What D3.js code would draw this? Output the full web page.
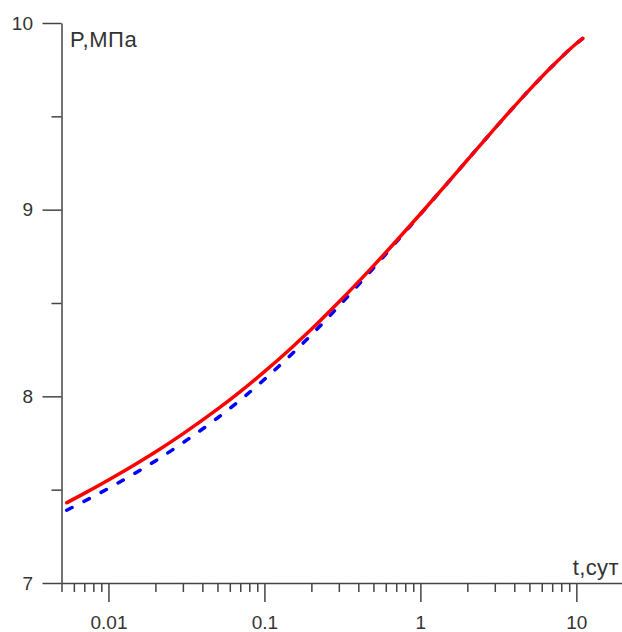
<!DOCTYPE html>
<html>
<head>
<meta charset="utf-8">
<script src="https://cdn.jsdelivr.net/npm/d3@7"></script>
<style>
  html, body { margin: 0; padding: 0; background: #fff; }
  svg { display: block; }
  text { font-family: "Liberation Sans", Arial, sans-serif; fill: #333; }
</style>
</head>
<body>
<svg id="chart" width="622" height="632"></svg>
<script>
// Time, days
const times = [0.0054, 0.007, 0.01, 0.015, 0.02, 0.03, 0.05, 0.07, 0.1, 0.15, 0.2, 0.3, 0.5, 0.7, 1, 1.5, 2, 3, 5, 7, 10, 11];
// Pressure, MPa — solid red curve
const pressureRed = [7.430, 7.480, 7.552, 7.638, 7.702, 7.799, 7.931, 8.025, 8.132, 8.262, 8.359, 8.505, 8.699, 8.832, 8.977, 9.145, 9.266, 9.435, 9.642, 9.768, 9.890, 9.918];
// Pressure, MPa — dashed blue curve
const pressureBlue = [7.390, 7.438, 7.507, 7.591, 7.654, 7.751, 7.884, 7.980, 8.091, 8.227, 8.329, 8.483, 8.687, 8.826, 8.975, 9.145, 9.266, 9.435, 9.642, 9.768, 9.890, 9.918];

const xMajorTicks = [0.01, 0.1, 1, 10];
const xMinorTicks = [0.005, 0.006, 0.007, 0.008, 0.009,
  0.02, 0.03, 0.04, 0.05, 0.06, 0.07, 0.08, 0.09,
  0.2, 0.3, 0.4, 0.5, 0.6, 0.7, 0.8, 0.9,
  2, 3, 4, 5, 6, 7, 8, 9];
const xTickLabels = ["0.01", "0.1", "1", "10"];
const yMajorTicks = [7, 8, 9, 10];
const yMinorTicks = [7.5, 8.5, 9.5];

const svg = d3.select("#chart");

const x = d3.scaleLog().domain([0.005, 20]).range([61.5, 623.3]);
const y = d3.scaleLinear().domain([7, 10]).range([583, 23]);

const axisColor = "#444";

function styleAxis(g) {
  g.selectAll("path.domain").attr("stroke", axisColor).attr("stroke-width", 1.5);
  g.selectAll(".tick line").attr("stroke", axisColor).attr("stroke-width", 1.5);
  g.selectAll(".tick text")
    .attr("font-size", 19)
    .attr("font-family", "Liberation Sans, Arial, sans-serif")
    .attr("fill", "#333");
}

// Curves: blue dashed underneath, red solid on top
const line = (vals) => d3.line()
  .x((d, i) => x(times[i]))
  .y((d) => y(d))
  .curve(d3.curveMonotoneX)(vals);

svg.append("path")
  .attr("d", line(pressureBlue))
  .attr("fill", "none")
  .attr("stroke", "#0000ff")
  .attr("stroke-width", 3.5)
  .attr("stroke-linecap", "round")
  .attr("stroke-dasharray", "6,13.4");

svg.append("path")
  .attr("d", line(pressureRed))
  .attr("fill", "none")
  .attr("stroke", "#ff0000")
  .attr("stroke-width", 3.5)
  .attr("stroke-linecap", "round");

// Y axis
const yAxisG = svg.append("g")
  .attr("transform", `translate(${x(0.005)},0)`)
  .call(d3.axisLeft(y).tickValues(yMajorTicks).tickSize(19).tickSizeOuter(0)
    .tickPadding(9.5).tickFormat(d3.format("d")));
styleAxis(yAxisG);

const yMinorG = svg.append("g")
  .attr("transform", `translate(${x(0.005)},0)`)
  .call(d3.axisLeft(y).tickValues(yMinorTicks).tickSize(10).tickFormat(""));
yMinorG.select("path.domain").remove();
styleAxis(yMinorG);

// X axis
const xAxisG = svg.append("g")
  .attr("transform", `translate(0,${y(7)})`)
  .call(d3.axisBottom(x).tickValues(xMajorTicks).tickSize(19).tickSizeOuter(0)
    .tickPadding(14).tickFormat((d, i) => xTickLabels[i]));
styleAxis(xAxisG);

const xMinorG = svg.append("g")
  .attr("transform", `translate(0,${y(7)})`)
  .call(d3.axisBottom(x).tickValues(xMinorTicks).tickSize(9).tickFormat(""));
xMinorG.select("path.domain").remove();
styleAxis(xMinorG);

// Axis titles
svg.append("text")
  .attr("x", 70)
  .attr("y", 47)
  .attr("font-size", 22)
  .attr("letter-spacing", 0.6)
  .text("P,МПа");

svg.append("text")
  .attr("x", 619)
  .attr("y", 575)
  .attr("text-anchor", "end")
  .attr("font-size", 22)
  .attr("letter-spacing", 0.4)
  .text("t,сут");
</script>
</body>
</html>
